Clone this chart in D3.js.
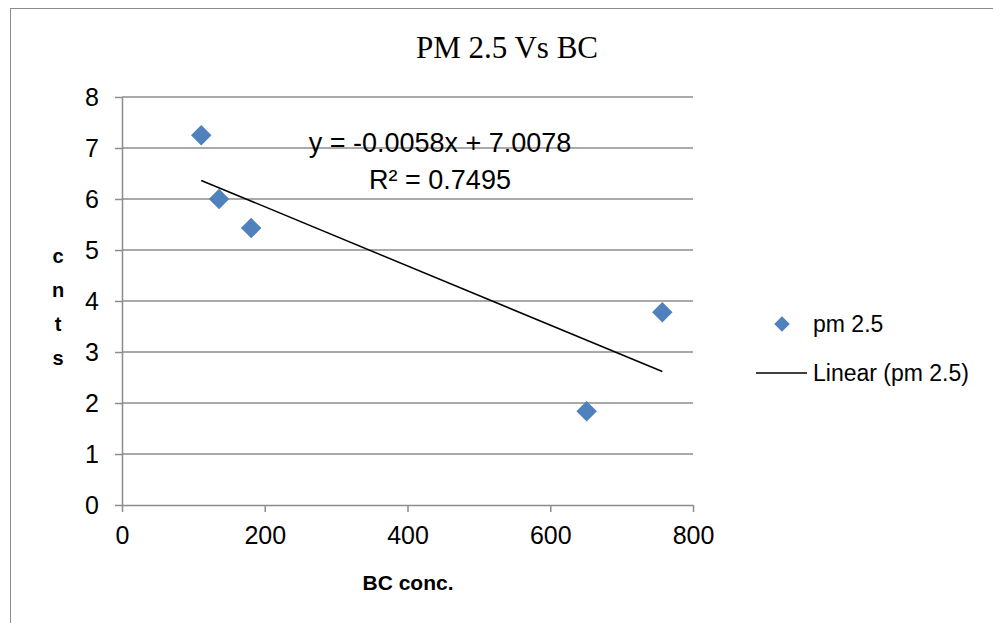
<!DOCTYPE html>
<html lang="en">
<head>
<meta charset="utf-8">
<script src="https://d3js.org/d3.v7.min.js"></script>
<style>
  body { margin: 0; background: #fff; }
  text { fill: #000; }
</style>
</head>
<body>
<div class="chartDiv"></div>
<script>

var w = 993;
var h = 623;

// data
var bcConc = [111, 136, 181, 651, 757];
var pm25 = [7.25, 6.0, 5.43, 1.84, 3.78];
var xTicks = [0, 200, 400, 600, 800];
var yTicks = [0, 1, 2, 3, 4, 5, 6, 7, 8];
var trendCoef = [-0.0058, 7.0078];   // slope, intercept
var eqLabels = ["y = -0.0058x + 7.0078", "R\u00b2 = 0.7495"];
var yTitle = ["c", "n", "t", "s"];
var legendLabels = ["pm 2.5", "Linear (pm 2.5)"];

var plotL = 122, plotR = 693, plotT = 97, plotB = 505;

var svg = d3.select(".chartDiv")
            .append("svg")
            .attr("width", w)
            .attr("height", h);

// outer chart border
svg.append("rect")
   .attr("x", 10.5)
   .attr("y", 8.5)
   .attr("width", 1000)
   .attr("height", 700)
   .attr("fill", "none")
   .attr("stroke", "#8c8c8c")
   .attr("stroke-width", 1);

var x = d3.scaleLinear().domain([0, 800]).range([plotL, plotR]);
var y = d3.scaleLinear().domain([0, 8]).range([plotB, plotT]);

// gridlines
svg.selectAll("line.grid")
   .data(yTicks.slice(1))
   .enter().append("line")
   .attr("class", "grid")
   .attr("x1", plotL)
   .attr("x2", plotR)
   .attr("y1", function(d) { return y(d); })
   .attr("y2", function(d) { return y(d); })
   .attr("stroke", "#8c8c8c")
   .attr("stroke-width", 1.5);

var yAxis = svg.append("g")
   .attr("transform", "translate(" + plotL + ",0)")
   .call(d3.axisLeft(y).tickValues(yTicks).tickSize(7).tickPadding(16).tickSizeOuter(0));

var xAxis = svg.append("g")
   .attr("transform", "translate(0," + plotB + ")")
   .call(d3.axisBottom(x).tickValues(xTicks).tickSize(7).tickPadding(14).tickSizeOuter(0));

[yAxis, xAxis].forEach(function(a) {
  a.select(".domain").attr("stroke", "#8c8c8c").attr("stroke-width", 1.5);
  a.selectAll(".tick line").attr("stroke", "#8c8c8c").attr("stroke-width", 1.5);
  a.selectAll(".tick text")
   .attr("fill", "#000")
   .style("font-family", "'Liberation Sans Narrow', 'Liberation Sans', sans-serif")
   .style("font-size", "25px");
});

// trendline
var tl = d3.line()
  .x(function(d) { return x(d); })
  .y(function(d) { return y(trendCoef[0] * d + trendCoef[1]); });

svg.append("path")
   .attr("d", tl([d3.min(bcConc), d3.max(bcConc)]))
   .attr("stroke", "#000")
   .attr("stroke-width", 1.5)
   .attr("fill", "none");

// points
var diamond = d3.symbol().type(d3.symbolSquare).size(210);

svg.selectAll("path.pt")
   .data(bcConc)
   .enter().append("path")
   .attr("class", "pt")
   .attr("d", diamond)
   .attr("transform", function(d, i) { return "translate(" + x(d) + "," + y(pm25[i]) + ") rotate(45)"; })
   .attr("fill", "#4f81bd");

// equation labels
svg.selectAll("text.eq")
   .data(eqLabels)
   .enter().append("text")
   .attr("class", "eq")
   .attr("x", 440)
   .attr("y", function(d, i) { return 152 + i * 37; })
   .attr("text-anchor", "middle")
   .style("font-family", "'Liberation Sans', sans-serif")
   .style("font-size", "27px")
   .text(function(d) { return d; });

// title
svg.append("text")
   .attr("x", 507)
   .attr("y", 58)
   .attr("text-anchor", "middle")
   .style("font-family", "'Liberation Serif', serif")
   .style("font-size", "31px")
   .text("PM 2.5 Vs BC");

// y title (stacked letters)
svg.selectAll("text.yt")
   .data(yTitle)
   .enter().append("text")
   .attr("class", "yt")
   .attr("x", 58)
   .attr("y", function(d, i) { return 263 + i * 34; })
   .attr("text-anchor", "middle")
   .style("font-family", "'Liberation Sans', sans-serif")
   .style("font-weight", "bold")
   .style("font-size", "20px")
   .text(function(d) { return d; });

// x title
svg.append("text")
   .attr("x", 408)
   .attr("y", 590)
   .attr("text-anchor", "middle")
   .style("font-family", "'Liberation Sans', sans-serif")
   .style("font-weight", "bold")
   .style("font-size", "21px")
   .text("BC conc.");

// legend
svg.append("path")
   .attr("d", d3.symbol().type(d3.symbolSquare).size(120))
   .attr("transform", "translate(782,324) rotate(45)")
   .attr("fill", "#4f81bd");

svg.append("line")
   .attr("x1", 756).attr("x2", 807)
   .attr("y1", 373).attr("y2", 373)
   .attr("stroke", "#000")
   .attr("stroke-width", 1.5);

svg.selectAll("text.leg")
   .data(legendLabels)
   .enter().append("text")
   .attr("class", "leg")
   .attr("x", 813)
   .attr("y", function(d, i) { return 332 + i * 49; })
   .style("font-family", "'Liberation Sans', sans-serif")
   .style("font-size", "23px")
   .text(function(d) { return d; });

</script>
</body>
</html>
